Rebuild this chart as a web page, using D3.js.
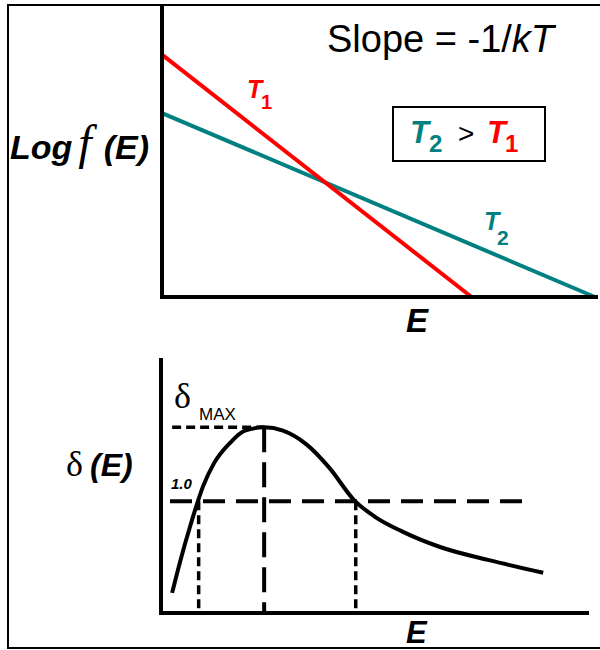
<!DOCTYPE html>
<html><head><meta charset="utf-8">
<script src="https://cdn.jsdelivr.net/npm/d3@7"></script>
<style>body{margin:0;background:#fff}svg{display:block}</style>
</head><body>
<script>
// ---- data ----
const t1E = [0, 7.1];
const t1LogF = [8.3, 0];
const t2E = [0, 9.93];
const t2LogF = [6.3, 0];

const curveE = [0.26, 0.44, 0.70, 0.98, 1.24, 1.61, 1.96, 2.41, 2.85, 3.39, 3.93, 4.51, 5.0, 5.63, 6.52, 7.69, 8.93];
const curveDelta = [0.18, 0.45, 0.80, 1.13, 1.34, 1.52, 1.63, 1.66, 1.63, 1.51, 1.30, 1.01, 0.86, 0.73, 0.59, 0.47, 0.36];
const deltaMax = 1.66;
const peakE = 2.41;
const unity = 1.0;
const unityCrossE = [0.88, 4.55];
const unityLineE = [0.21, 8.67];
const maxLineStartE = 0.26;

const teal = "#008080", red = "#ff0000";
const sans = "'Liberation Sans', Arial, sans-serif";
const serif = "'Liberation Serif', 'Times New Roman', serif";

const svg = d3.select("body").append("svg").attr("width", 600).attr("height", 650);
svg.append("rect").attr("width", 600).attr("height", 650).attr("fill", "#fff");
// outer frame
svg.append("rect").attr("x", 8).attr("y", 5).attr("width", 610).attr("height", 643)
  .attr("fill", "none").attr("stroke", "#000").attr("stroke-width", 2);

// ---- top chart ----
const xT = d3.scaleLinear().domain([0, 10]).range([162, 598]);
const yT = d3.scaleLinear().domain([0, 10]).range([297, 5]);
const lineT = d3.line().x(d => xT(d[0])).y(d => yT(d[1]));

svg.append("path").datum(d3.zip(t2E, t2LogF)).attr("d", lineT)
  .attr("stroke", teal).attr("stroke-width", 4).attr("fill", "none");
svg.append("path").datum(d3.zip(t1E, t1LogF)).attr("d", lineT)
  .attr("stroke", red).attr("stroke-width", 4).attr("fill", "none");

// axes
svg.append("line").attr("x1", xT(0)).attr("x2", xT(0)).attr("y1", yT(10)).attr("y2", yT(0) + 2)
  .attr("stroke", "#000").attr("stroke-width", 4);
svg.append("line").attr("x1", xT(0) - 2).attr("x2", xT(10)).attr("y1", yT(0)).attr("y2", yT(0))
  .attr("stroke", "#000").attr("stroke-width", 4);

// labels
const slope = svg.append("text").attr("x", 327).attr("y", 52).attr("font-family", sans)
  .attr("font-size", 38).attr("fill", "#000");
slope.append("tspan").text("Slope = -1/");
slope.append("tspan").attr("font-style", "italic").text("kT");

function tLabel(x, y, sub, color, size, subSize, subX, subDy) {
  const t = svg.append("text").attr("x", x).attr("y", y).attr("font-family", sans)
    .attr("font-weight", "bold").attr("font-style", "italic").attr("font-size", size).attr("fill", color);
  t.append("tspan").text("T");
  t.append("tspan").attr("x", subX).attr("dy", subDy).attr("font-style", "normal")
    .attr("font-size", subSize).text(sub);
}
tLabel(247, 98, "1", red, 25, 20, 261, 11);
tLabel(484, 230, "2", teal, 25, 21, 497, 15);

svg.append("rect").attr("x", 393).attr("y", 107).attr("width", 152).attr("height", 54)
  .attr("fill", "none").attr("stroke", "#000").attr("stroke-width", 2);
tLabel(410, 143, "2", teal, 31, 24, 429, 9);
svg.append("text").attr("x", 458).attr("y", 143).attr("font-family", sans).attr("font-size", 28).text(">");
tLabel(487, 143, "1", red, 31, 24, 505, 9);

const lf = svg.append("text").attr("x", 10).attr("y", 159).attr("font-family", sans)
  .attr("font-size", 34).attr("fill", "#000");
lf.append("tspan").attr("font-weight", "bold").attr("font-style", "italic").text("Log");
lf.append("tspan").attr("font-family", serif).attr("font-style", "italic").attr("font-size", 48)
  .attr("dx", 6).text("f");
lf.append("tspan").attr("font-weight", "bold").attr("font-style", "italic").attr("dx", 12).text("(E)");

svg.append("text").attr("x", 406).attr("y", 332).attr("font-family", sans).attr("font-weight", "bold")
  .attr("font-style", "italic").attr("font-size", 33).text("E");

// ---- bottom chart ----
const xB = d3.scaleLinear().domain([0, 10]).range([161, 589]);
const yB = d3.scaleLinear().domain([0, 2.28]).range([613, 358]);

// reference lines
svg.append("line").attr("x1", xB(unityLineE[0])).attr("x2", xB(unityLineE[1]))
  .attr("y1", yB(unity)).attr("y2", yB(unity))
  .attr("stroke", "#000").attr("stroke-width", 4).attr("stroke-dasharray", "22,11");
svg.append("line").attr("x1", xB(maxLineStartE)).attr("x2", xB(peakE))
  .attr("y1", yB(deltaMax)).attr("y2", yB(deltaMax))
  .attr("stroke", "#000").attr("stroke-width", 3.5).attr("stroke-dasharray", "9,5");
svg.append("line").attr("x1", xB(peakE)).attr("x2", xB(peakE))
  .attr("y1", yB(deltaMax)).attr("y2", yB(0))
  .attr("stroke", "#000").attr("stroke-width", 4).attr("stroke-dasharray", "25,10");
unityCrossE.forEach(e => {
  svg.append("line").attr("x1", xB(e)).attr("x2", xB(e)).attr("y1", yB(unity)).attr("y2", yB(0))
    .attr("stroke", "#000").attr("stroke-width", 3.5).attr("stroke-dasharray", "9,5");
});

// curve
svg.append("path").datum(d3.zip(curveE, curveDelta))
  .attr("d", d3.line().x(d => xB(d[0])).y(d => yB(d[1])).curve(d3.curveMonotoneX))
  .attr("stroke", "#000").attr("stroke-width", 4).attr("fill", "none");

// axes
svg.append("line").attr("x1", xB(0)).attr("x2", xB(0)).attr("y1", yB(2.28)).attr("y2", yB(0) + 2)
  .attr("stroke", "#000").attr("stroke-width", 4);
svg.append("line").attr("x1", xB(0) - 2).attr("x2", xB(10)).attr("y1", yB(0)).attr("y2", yB(0))
  .attr("stroke", "#000").attr("stroke-width", 4);

// labels
const dm = svg.append("text").attr("x", 174).attr("y", 408).attr("font-family", serif)
  .attr("font-size", 36).attr("fill", "#000");
dm.append("tspan").text("δ");
dm.append("tspan").attr("x", 199).attr("y", 420).attr("font-family", sans).attr("font-size", 17).text("MAX");

svg.append("text").attr("x", 171).attr("y", 489).attr("font-family", sans).attr("font-weight", "bold")
  .attr("font-style", "italic").attr("font-size", 15).text("1.0");

const de = svg.append("text").attr("x", 66).attr("y", 476).attr("font-family", serif)
  .attr("font-size", 36).attr("fill", "#000");
de.append("tspan").text("δ");
de.append("tspan").attr("x", 90).attr("font-family", sans).attr("font-weight", "bold")
  .attr("font-style", "italic").attr("font-size", 32).text("(E)");

svg.append("text").attr("x", 406).attr("y", 643).attr("font-family", sans).attr("font-weight", "bold")
  .attr("font-style", "italic").attr("font-size", 31).text("E");
</script>
</body></html>
